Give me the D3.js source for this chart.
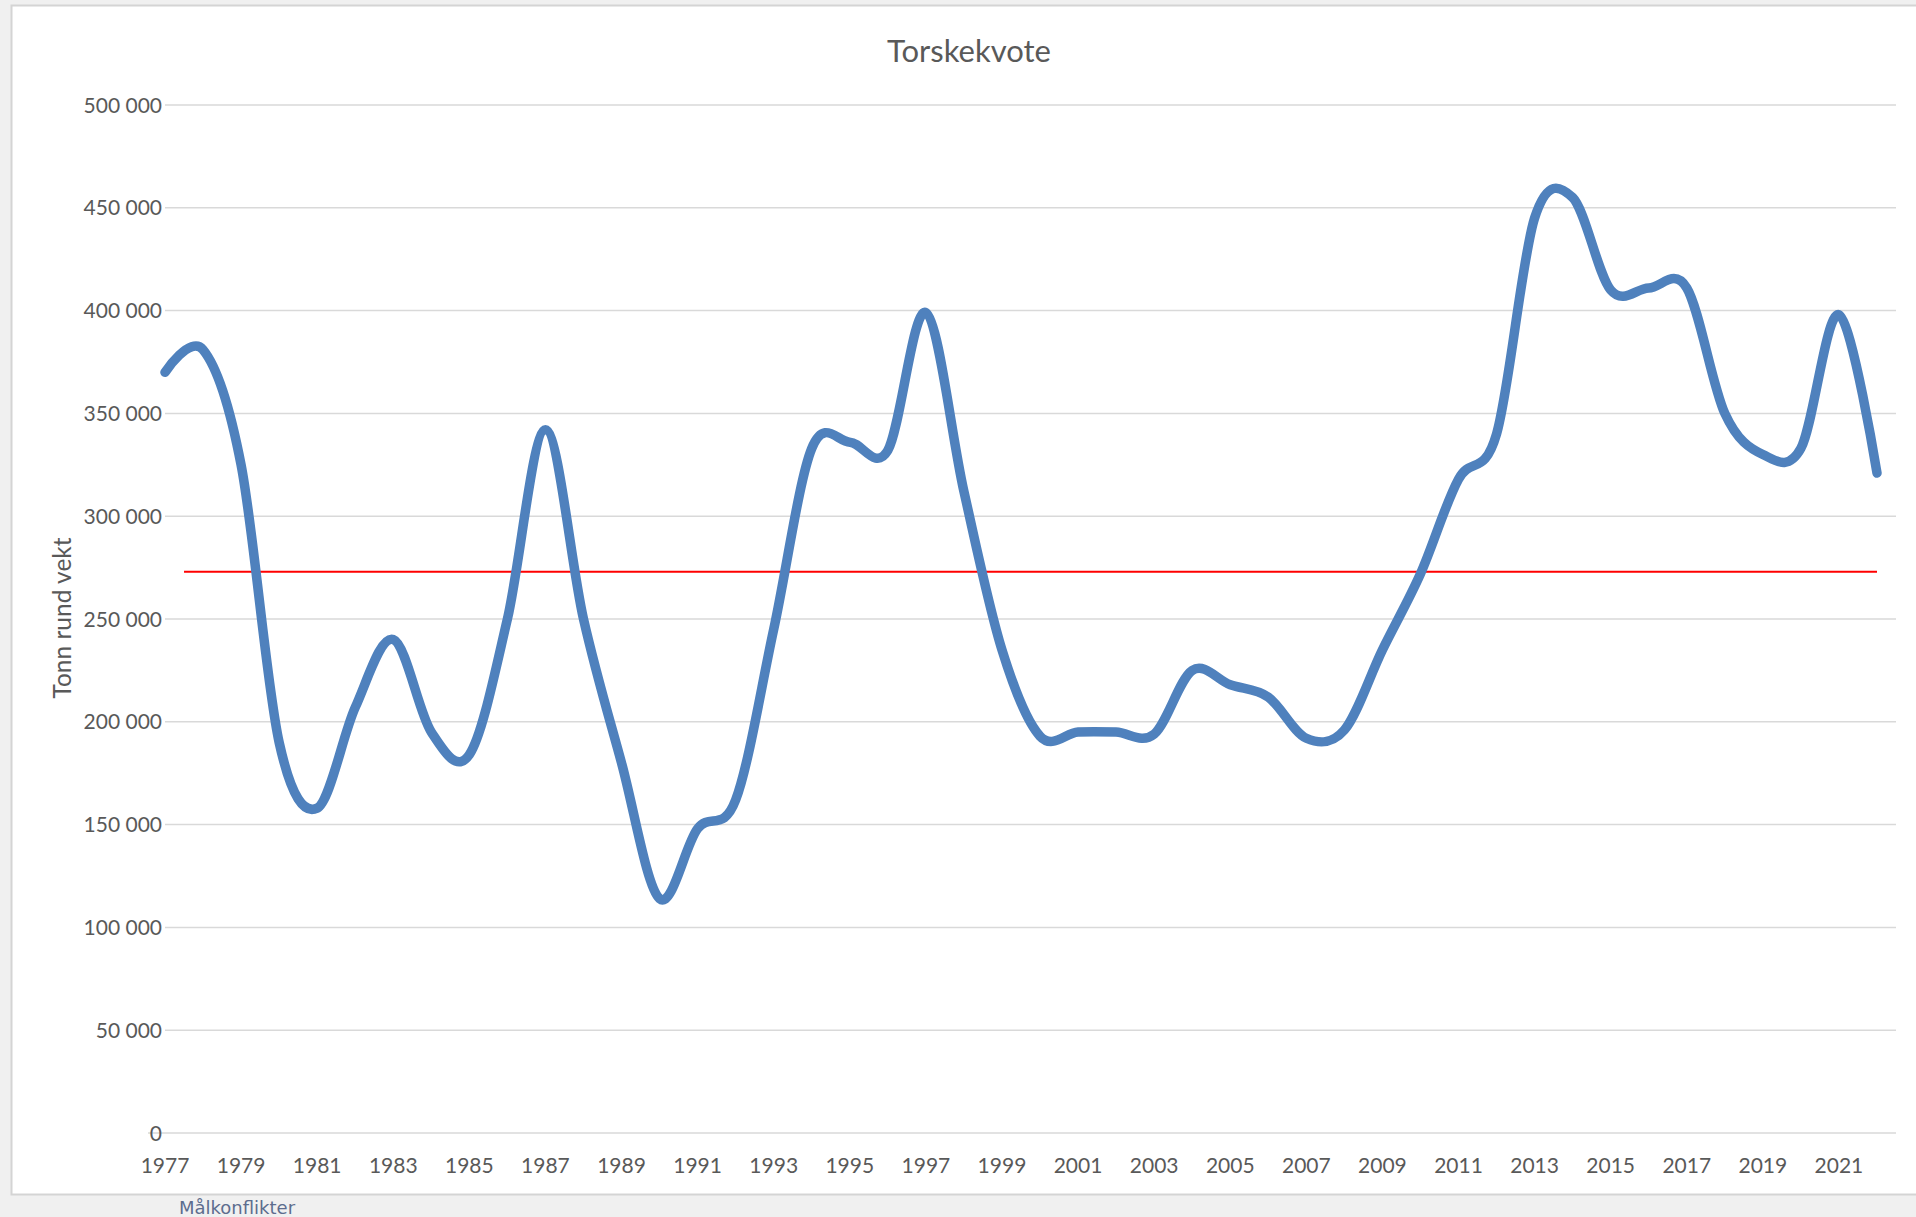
<!DOCTYPE html>
<html>
<head>
<meta charset="utf-8">
<script src="https://cdn.jsdelivr.net/npm/d3@7"></script>
<style>
  html, body { margin: 0; padding: 0; background: #f0f0f0; }
  svg { display: block; }
  text { font-family: Lato, "Open Sans", sans-serif; fill: #595959; }
</style>
</head>
<body>
<div id="chart"></div>
<script>
// Torskekvote, tonn rund vekt per år
const years = [
  1977, 1978, 1979, 1980, 1981, 1982, 1983, 1984, 1985, 1986,
  1987, 1988, 1989, 1990, 1991, 1992, 1993, 1994, 1995, 1996,
  1997, 1998, 1999, 2000, 2001, 2002, 2003, 2004, 2005, 2006,
  2007, 2008, 2009, 2010, 2011, 2012, 2013, 2014, 2015, 2016,
  2017, 2018, 2019, 2020, 2021, 2022
];
const quota = [
  370000, 381000, 325000, 190000, 158000, 207000, 240000, 195000, 184000, 250000,
  342000, 250000, 180000, 114000, 148000, 162000, 245000, 333000, 336000, 332000,
  399000, 312000, 235000, 193000, 195000, 195000, 194000, 225000, 218000, 212000,
  192000, 196000, 235000, 272000, 318000, 340000, 445000, 455000, 410000, 411000,
  411000, 350000, 330000, 333000, 398000, 321000
];
// red reference line (drawn from mid-1977 to 2022)
const refValue = 273000;
const refSpan = [1977.5, 2022];

const yTicks = [0, 50000, 100000, 150000, 200000, 250000, 300000, 350000, 400000, 450000, 500000];
const xTickYears = [1977, 1979, 1981, 1983, 1985, 1987, 1989, 1991, 1993, 1995, 1997,
                    1999, 2001, 2003, 2005, 2007, 2009, 2011, 2013, 2015, 2017, 2019, 2021];

const title = "Torskekvote";
const yTitle = "Tonn rund vekt";
const footer = "Målkonflikter";

const W = 1916, H = 1217;
const plot = { left: 165, right: 1877, gridRight: 1896, top: 105, bottom: 1133 };

const svg = d3.select("#chart").append("svg")
    .attr("width", W)
    .attr("height", H);

svg.append("rect")
    .attr("width", W).attr("height", H)
    .attr("fill", "#f0f0f0");

// chart area
svg.append("rect")
    .attr("x", 11.5).attr("y", 5.5)
    .attr("width", W + 10).attr("height", 1189)
    .attr("fill", "#ffffff")
    .attr("stroke", "#d4d4d4")
    .attr("stroke-width", 2);

const x = d3.scaleLinear().domain([1977, 2022]).range([plot.left, plot.right]);
const y = d3.scaleLinear().domain([0, 500000]).range([plot.bottom, plot.top]);

const fmt = d3.formatLocale({ decimal: ",", thousands: "\u00a0", grouping: [3], currency: ["", " kr"] }).format(",d");

// gridlines
svg.append("g")
    .selectAll("line")
    .data(yTicks)
    .enter().append("line")
    .attr("x1", d => d === 0 ? plot.left - 17 : plot.left)
    .attr("x2", plot.gridRight)
    .attr("y1", d => y(d))
    .attr("y2", d => y(d))
    .attr("stroke", "#d9d9d9")
    .attr("stroke-width", 1.5);

// y axis labels
svg.append("g")
    .selectAll("text")
    .data(yTicks)
    .enter().append("text")
    .attr("x", plot.left - 3)
    .attr("y", d => y(d))
    .attr("dy", "0.36em")
    .attr("text-anchor", "end")
    .style("font-size", "21px")
    .text(d => fmt(d));

// x axis labels
svg.append("g")
    .selectAll("text")
    .data(xTickYears)
    .enter().append("text")
    .attr("x", d => x(d))
    .attr("y", 1173)
    .attr("text-anchor", "middle")
    .style("font-size", "21px")
    .text(d => d);

// reference line
svg.append("line")
    .attr("x1", x(refSpan[0]))
    .attr("x2", x(refSpan[1]))
    .attr("y1", y(refValue))
    .attr("y2", y(refValue))
    .attr("stroke", "#ff0000")
    .attr("stroke-width", 2);

// quota series, smoothed like Excel
const line = d3.line()
    .x((d, i) => x(years[i]))
    .y(d => y(d))
    .curve(d3.curveCardinal.tension(0));

svg.append("path")
    .datum(quota)
    .attr("d", line)
    .attr("fill", "none")
    .attr("stroke", "#4f81bd")
    .attr("stroke-width", 9.5)
    .attr("stroke-linecap", "round")
    .attr("stroke-linejoin", "round");

// titles
svg.append("text")
    .attr("x", 969)
    .attr("y", 62)
    .attr("text-anchor", "middle")
    .style("font-size", "31px")
    .text(title);

svg.append("text")
    .attr("transform", "translate(71,618) rotate(-90)")
    .attr("text-anchor", "middle")
    .style("font-size", "24.5px")
    .text(yTitle);

svg.append("text")
    .attr("x", 179)
    .attr("y", 1214)
    .style("font-family", "'DejaVu Sans', sans-serif")
    .style("font-size", "18px")
    .style("fill", "#5d6d8e")
    .text(footer);
</script>
</body>
</html>
